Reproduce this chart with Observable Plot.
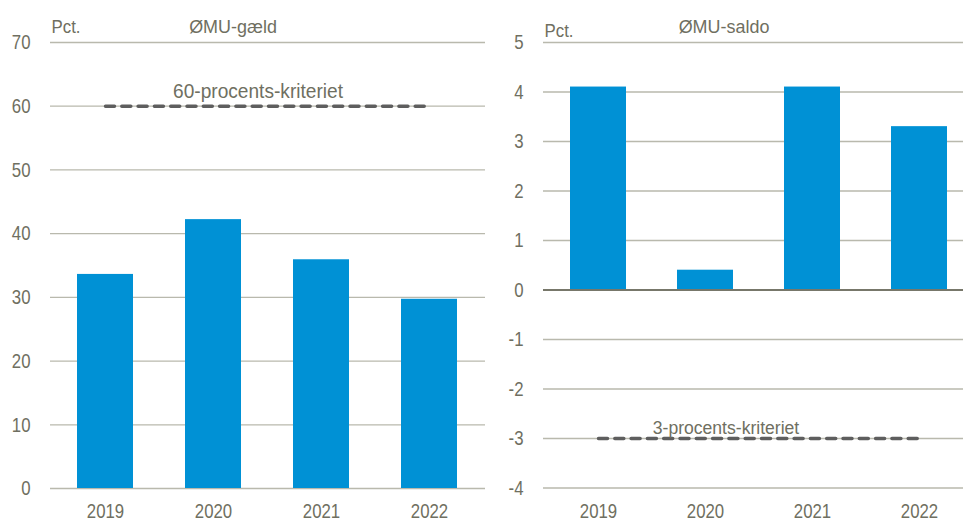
<!DOCTYPE html>
<html>
<head>
<meta charset="utf-8">
<script src="https://cdn.jsdelivr.net/npm/d3@7"></script>
<script src="https://cdn.jsdelivr.net/npm/@observablehq/plot@0.6"></script>
<style>
  html, body { margin: 0; padding: 0; background: #fff; }
  #wrap { position: relative; width: 963px; height: 521px; overflow: hidden; background: #fff; }
  #wrap svg { position: absolute; top: 0; }
</style>
</head>
<body>
<div id="wrap"></div>
<script>
// ---- data ----
const years = ["2019", "2020", "2021", "2022"];
const debtValues = [33.6, 42.2, 35.9, 29.7];      // ØMU-gæld, pct.
const balanceValues = [4.1, 0.4, 4.1, 3.3];       // ØMU-saldo, pct.
const debtTicks = [0, 10, 20, 30, 40, 50, 60, 70];
const balanceTicks = [-4, -3, -2, -1, 0, 1, 2, 3, 4, 5];
const debtCriterion = 60;
const balanceCriterion = -3;
const debtTitle = "ØMU-gæld";
const balanceTitle = "ØMU-saldo";
const debtCriterionLabel = "60-procents-kriteriet";
const balanceCriterionLabel = "3-procents-kriteriet";
const unitLabel = "Pct.";

// ---- styles ----
const textColor = "#6f6f61";
const gridColor = "#b9b9ad";
const zeroColor = "#77776a";
const barColor = "#0091d5";
const dashColor = "#5e5e5e";
const font = "'Liberation Sans', Arial, sans-serif";

function panel({values, ticks, domain, criterion, title, critLabel, width, marginLeft, marginBottom,
                critFont, critDx, critDy, pctDy, zeroLine}) {
  const rows = years.map((y, i) => ({year: y, value: values[i]}));
  const crit = [{year: years[0], v: criterion}, {year: years[years.length - 1], v: criterion}];
  return Plot.plot({
    width, height: 521,
    marginLeft, marginRight: 0, marginTop: 42, marginBottom,
    style: {fontFamily: font, fontSize: "21px", color: textColor, background: "transparent", overflow: "visible"},
    x: {domain: years, paddingInner: 0.48, paddingOuter: 0.24, label: null, tickSize: 0, tickPadding: 15},
    y: {domain, ticks, label: null, tickSize: 0, tickPadding: 20, tickFormat: d => String(d)},
    marks: [
      Plot.ruleY(ticks, {stroke: gridColor, strokeWidth: 1.3}),
      Plot.barY(rows, {x: "year", y: "value", fill: barColor}),
      zeroLine ? Plot.ruleY([0], {stroke: zeroColor, strokeWidth: 2.2}) : null,
      Plot.line(crit, {x: "year", y: "v", stroke: dashColor, strokeWidth: 3.5,
                       strokeDasharray: "9,7.3", strokeLinecap: "round"}),
      Plot.text([critLabel], {y: [criterion], text: d => d, dx: critDx, dy: critDy,
                 lineAnchor: "bottom", fontFamily: font, fontSize: critFont, fill: textColor}),
      Plot.text([title], {frameAnchor: "top", dx: -35, dy: -10, lineAnchor: "bottom",
                 fontFamily: font, fontSize: 18.7, fill: textColor}),
      Plot.text([unitLabel], {frameAnchor: "top-left", textAnchor: "start", dx: 1, dy: pctDy,
                 lineAnchor: "bottom", fontFamily: font, fontSize: 18.7, fill: textColor})
    ]
  });
}

const left = panel({
  values: debtValues, ticks: debtTicks, domain: [0, 70], criterion: debtCriterion,
  title: debtTitle, critLabel: debtCriterionLabel, width: 485, marginLeft: 50, marginBottom: 33,
  critFont: 21, critDx: -10, critDy: -8, pctDy: -10, zeroLine: false
});
const right = panel({
  values: balanceValues, ticks: balanceTicks, domain: [-4, 5], criterion: balanceCriterion,
  title: balanceTitle, critLabel: balanceCriterionLabel, width: 494, marginLeft: 63, marginBottom: 33.5,
  critFont: 18.7, critDx: -33, critDy: -5, pctDy: -6, zeroLine: true
});
left.style.left = "0px";
right.style.left = "480px";
const wrap = document.getElementById("wrap");
wrap.appendChild(left);
wrap.appendChild(right);

// horizontal condensing of the lettering, as in the reference
const squeeze = {};
squeeze[debtTitle] = 0.96; squeeze[balanceTitle] = 0.96;
squeeze[debtCriterionLabel] = 0.91; squeeze[balanceCriterionLabel] = 0.94;
squeeze[unitLabel] = 0.9;
for (const svg of [left, right]) {
  svg.querySelectorAll("text").forEach(t => {
    if (t.querySelector("tspan")) return;
    const s = t.textContent;
    const f = s in squeeze ? squeeze[s] : 0.8;
    const len = t.getComputedTextLength();
    t.setAttribute("textLength", (len * f).toFixed(2));
    t.setAttribute("lengthAdjust", "spacingAndGlyphs");
  });
}
</script>
</body>
</html>
